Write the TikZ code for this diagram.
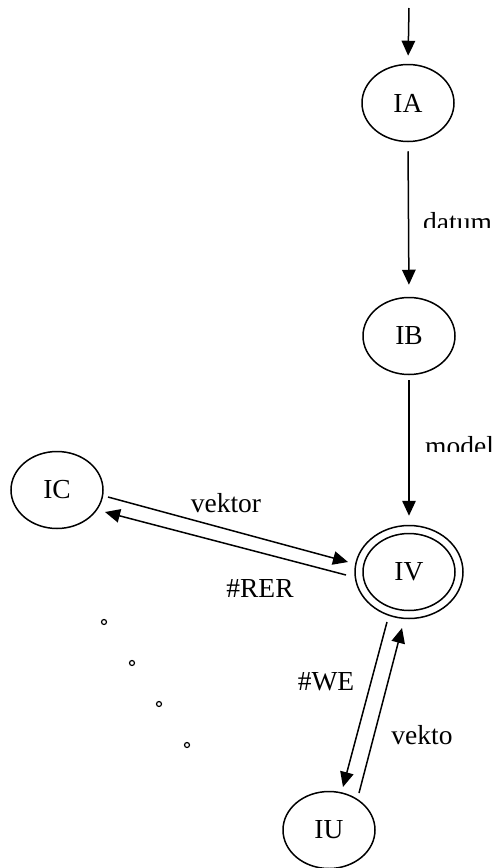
\documentclass[tikz,border=0pt]{standalone}
\usepackage{fontspec}
\setmainfont{Liberation Serif}
\usetikzlibrary{shapes.geometric,arrows.meta}
\begin{document}
\begin{tikzpicture}[x=1pt,y=-1pt,
  state/.style={draw,ellipse,line width=1.5pt,minimum width=92pt,minimum height=77pt,inner sep=0pt,font=\fontsize{27.5}{30}\selectfont},
  arr/.style={line width=1.5pt,-{Triangle[length=15pt,width=13.5pt]}},
  lbl/.style={font=\fontsize{27.5}{30}\selectfont,inner sep=0pt},
  dotc/.style={line width=1.2pt}]
\useasboundingbox (0,0) rectangle (498,868);
\node[state] (IA) at (408,103) {IA};
\node[state] (IB) at (409,336) {IB};
\node[state] (IC) at (57,490) {IC};
\node[state,minimum width=108pt,minimum height=93pt] (IV) at (409,572) {};
\node[state] (IVin) at (409,572) {IV};
\node[state] (IU) at (329,830) {IU};
\coordinate (start) at (409,8);

\draw[arr,shorten >=8pt] (start) -- (IA.north);
\draw[arr,shorten <=9pt,shorten >=12pt] (IA.south) -- (IB.north);
\draw[arr,shorten <=5pt,shorten >=9pt] (IB.south) -- (IV.north);

\draw[arr] ([shift={(51,7)}]IC.center) -- ([shift={(-61,-10)}]IV.center);
\draw[arr] ([shift={(-63,3)}]IV.center) -- ([shift={(48,22)}]IC.center);
\draw[arr] ([shift={(-22,50)}]IV.center) -- ([shift={(14,-43)}]IU.center);
\draw[arr] ([shift={(30,-37)}]IU.center) -- ([shift={(-7,56)}]IV.center);

\begin{scope}
  \clip (380,200) rectangle (498,227);
  \node[lbl,anchor=base west] (datum) at (423,231) {datum};
\end{scope}
\begin{scope}
  \clip (380,420) rectangle (498,451);
  \node[lbl,anchor=base west] (model) at (425,455) {model};
\end{scope}
\node[lbl] (vektor) at (226,503) {vektor};
\node[lbl] (RER) at (260,588) {\#RER};
\node[lbl] (WE) at (326,682) {\#WE};
\node[lbl] (vekto) at (422,735) {vekto};

\draw[dotc] (104,622) circle[radius=2.5pt];
\draw[dotc] (132,663) circle[radius=2.5pt];
\draw[dotc] (159,704) circle[radius=2.5pt];
\draw[dotc] (187,745) circle[radius=2.5pt];
\end{tikzpicture}
\end{document}
